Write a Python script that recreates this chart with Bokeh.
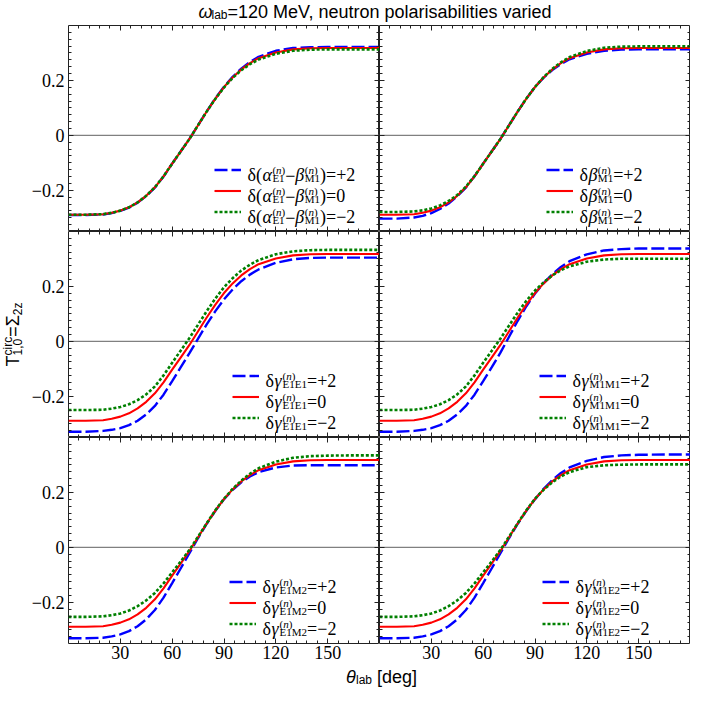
import math
from bokeh.plotting import figure
from bokeh.models import Range1d, LinearAxis, FixedTicker, Span, Legend, LegendItem, Label
from bokeh.layouts import column, row
from bokeh.embed import file_html
from bokeh.resources import INLINE

# ---------------- data ----------------
THETA = [0, 10, 20, 25, 30, 35, 40, 45, 50, 55, 60, 65, 70, 75, 80, 85, 90,
         95, 100, 105, 110, 120, 130, 140, 150, 165, 180]

# central curve (all variations = 0), identical in every panel
RED = [-0.289, -0.289, -0.287, -0.282, -0.274, -0.262, -0.244, -0.220, -0.189, -0.149, -0.103, -0.058, -0.013,
       0.037, 0.087, 0.134, 0.176, 0.211, 0.240, 0.263, 0.281, 0.302, 0.313, 0.317, 0.318, 0.318, 0.318]

# panel 1: delta(alpha-beta)
BLUE_1 = [-0.290, -0.290, -0.288, -0.283, -0.275, -0.263, -0.245, -0.221, -0.190, -0.150, -0.103, -0.058, -0.013,
          0.037, 0.087, 0.135, 0.177, 0.213, 0.243, 0.267, 0.286, 0.308, 0.318, 0.321, 0.322, 0.322, 0.322]
GREEN_1 = [-0.289, -0.289, -0.287, -0.282, -0.274, -0.262, -0.244, -0.220, -0.189, -0.149, -0.103, -0.058, -0.013,
           0.037, 0.087, 0.133, 0.174, 0.209, 0.237, 0.259, 0.276, 0.297, 0.308, 0.312, 0.313, 0.313, 0.313]
# panel 2: delta beta_M1
BLUE_2 = [-0.303, -0.303, -0.299, -0.293, -0.283, -0.268, -0.248, -0.222, -0.190, -0.149, -0.103, -0.058, -0.013,
          0.037, 0.087, 0.134, 0.176, 0.210, 0.238, 0.260, 0.277, 0.297, 0.308, 0.312, 0.313, 0.313, 0.313]
GREEN_2 = [-0.279, -0.279, -0.277, -0.273, -0.266, -0.255, -0.239, -0.217, -0.187, -0.148, -0.103, -0.058, -0.013,
           0.037, 0.087, 0.134, 0.176, 0.212, 0.242, 0.266, 0.285, 0.307, 0.319, 0.323, 0.324, 0.324, 0.324]
# panel 3: delta gamma_E1E1
BLUE_3 = [-0.329, -0.329, -0.326, -0.322, -0.316, -0.305, -0.289, -0.266, -0.235, -0.194, -0.145, -0.094, -0.043,
          0.010, 0.062, 0.110, 0.153, 0.189, 0.219, 0.243, 0.262, 0.286, 0.299, 0.304, 0.305, 0.305, 0.305]
GREEN_3 = [-0.250, -0.250, -0.249, -0.245, -0.239, -0.229, -0.214, -0.193, -0.164, -0.124, -0.078, -0.033, 0.012,
           0.061, 0.110, 0.156, 0.197, 0.230, 0.258, 0.279, 0.296, 0.317, 0.328, 0.332, 0.333, 0.333, 0.333]
# panel 4: delta gamma_M1M1
BLUE_4 = [-0.329, -0.329, -0.326, -0.322, -0.316, -0.305, -0.289, -0.266, -0.235, -0.194, -0.145, -0.094, -0.041,
          0.017, 0.075, 0.128, 0.174, 0.212, 0.244, 0.271, 0.292, 0.317, 0.331, 0.336, 0.338, 0.338, 0.338]
GREEN_4 = [-0.250, -0.250, -0.249, -0.245, -0.239, -0.229, -0.214, -0.193, -0.164, -0.124, -0.078, -0.034, 0.010,
           0.058, 0.105, 0.148, 0.185, 0.215, 0.240, 0.259, 0.273, 0.290, 0.298, 0.301, 0.301, 0.301, 0.301]
# panel 5: delta gamma_E1M2
BLUE_5 = [-0.331, -0.331, -0.329, -0.324, -0.317, -0.305, -0.287, -0.262, -0.228, -0.183, -0.130, -0.076, -0.021,
          0.034, 0.086, 0.133, 0.175, 0.209, 0.237, 0.258, 0.274, 0.291, 0.298, 0.299, 0.299, 0.299, 0.299]
GREEN_5 = [-0.253, -0.253, -0.251, -0.247, -0.241, -0.230, -0.214, -0.193, -0.166, -0.131, -0.091, -0.051, -0.009,
           0.039, 0.088, 0.135, 0.177, 0.213, 0.243, 0.268, 0.288, 0.312, 0.326, 0.332, 0.334, 0.335, 0.335]
# panel 6: delta gamma_M1E2
BLUE_6 = [-0.331, -0.331, -0.329, -0.324, -0.317, -0.305, -0.287, -0.262, -0.228, -0.183, -0.130, -0.076, -0.021,
          0.034, 0.086, 0.133, 0.175, 0.213, 0.245, 0.271, 0.291, 0.315, 0.329, 0.335, 0.337, 0.338, 0.338]
GREEN_6 = [-0.253, -0.253, -0.251, -0.247, -0.241, -0.230, -0.214, -0.193, -0.166, -0.131, -0.091, -0.051, -0.009,
           0.039, 0.088, 0.135, 0.177, 0.210, 0.237, 0.258, 0.274, 0.292, 0.299, 0.301, 0.302, 0.302, 0.302]

X_TICKS = [30, 60, 90, 120, 150]
X_TICK_LABELS = ["30", "60", "90", "120", "150"]
Y_TICKS = [-0.2, 0, 0.2]
Y_TICK_LABELS = ["\u22120.2", "0", "0.2"]
LEGEND_SUFFIX = ["=+2", "=0", "=\u22122"]

SUP_N = [("(", False), ("n", True), (")", False)]
LEGEND_TEXT = [
    [("r", "\u03b4("), ("i", "\u03b1"), ("ss", SUP_N, "E1"), ("r", "\u2212"), ("i", "\u03b2"), ("ss", SUP_N, "M1"), ("r", ")")],
    [("r", "\u03b4"), ("i", "\u03b2"), ("ss", SUP_N, "M1")],
    [("r", "\u03b4"), ("i", "\u03b3"), ("ss", SUP_N, "E1E1")],
    [("r", "\u03b4"), ("i", "\u03b3"), ("ss", SUP_N, "M1M1")],
    [("r", "\u03b4"), ("i", "\u03b3"), ("ss", SUP_N, "E1M2")],
    [("r", "\u03b4"), ("i", "\u03b3"), ("ss", SUP_N, "M1E2")],
]
BLUES = [BLUE_1, BLUE_2, BLUE_3, BLUE_4, BLUE_5, BLUE_6]
GREENS = [GREEN_1, GREEN_2, GREEN_3, GREEN_4, GREEN_5, GREEN_6]
LEGEND_X_FRAC = [0.468, 0.536, 0.528, 0.514, 0.519, 0.524]   # legend sample start / frame width

# ---------------- styling / geometry ----------------
SERIF = "Liberation Serif"
SANS = "Liberation Sans"
FG = "#222222"
XMIN, XMAX, YMIN, YMAX = 0, 180, -0.35, 0.40
FRAME_H = 206
FRAME_W = [311, 311]
YSTRIP_W = 26
LEFT_BORDER = 42
BOTTOM_BORDER = 22
HEADER_H = 25
FOOTER_H = 23

W_SERIF = {"\u03b4": 0.50, "(": 0.333, ")": 0.333, "\u2212": 0.564, "=": 0.564, "+": 0.564,
           "0": 0.5, "1": 0.5, "2": 0.5, "E": 0.611, "M": 0.889}
W_SERIF_IT = {"\u03b1": 0.55, "\u03b2": 0.52, "\u03b3": 0.45, "n": 0.5}
W_SANS = {"T": 0.611, "c": 0.5, "i": 0.222, "r": 0.333, "1": 0.556, ",": 0.278, "0": 0.556,
          "=": 0.584, "\u03a3": 0.61, "2": 0.556, "z": 0.5, "l": 0.222, "a": 0.556, "b": 0.556,
          " ": 0.278, "[": 0.278, "]": 0.278, "d": 0.556, "e": 0.556, "g": 0.556}
W_SANS_IT = {"\u03c9": 0.72, "\u03b8": 0.556}


def tw(s, table, size):
    return sum(table.get(c, 0.5) for c in s) * size


def rich(p, pieces, x0, b0, conv, font, tab_r, tab_i, main=18, small=11,
         sup_dy=-5.5, sub_dy=3.5, rotate=False, baseline="alphabetic"):
    """Lay out text pieces with sub/superscripts; x0,b0 are px (x right, y down)."""
    state = {"adv": 0.0}

    def put(text, size, italic, along, perp):
        if rotate:
            px, py = x0 + perp, b0 - along
        else:
            px, py = x0 + along, b0 + perp
        dx, dy = conv(px, py)
        p.add_layout(Label(x=dx, y=dy, text=text, text_font=font,
                           text_font_size=f"{size}px",
                           text_font_style="italic" if italic else "normal",
                           text_align="left", text_baseline=baseline,
                           text_color="black", angle=math.pi / 2 if rotate else 0))

    for pc in pieces:
        kind = pc[0]
        if kind in ("r", "i"):
            it = kind == "i"
            put(pc[1], main, it, state["adv"], 0)
            state["adv"] += tw(pc[1], tab_i if it else tab_r, main)
        elif kind == "gap":
            state["adv"] += pc[1]
        elif kind == "sub":
            put(pc[1], small, False, state["adv"], sub_dy)
            state["adv"] += tw(pc[1], tab_r, small)
        elif kind == "ss":
            a0 = state["adv"]
            a = a0
            for t, it in pc[1]:
                put(t, small, it, a, sup_dy)
                a += tw(t, tab_i if it else tab_r, small)
            put(pc[2], small, False, a0, sub_dy)
            state["adv"] = max(a, a0 + tw(pc[2], tab_r, small))
    return state["adv"]


def make_axis(side, labelled):
    if side in ("left", "right"):
        tk = FixedTicker(ticks=Y_TICKS,
                         minor_ticks=[round(YMIN + 0.025 * k, 3) for k in range(1, 30)])
        ticks, labels = Y_TICKS, Y_TICK_LABELS
    else:
        tk = FixedTicker(ticks=X_TICKS, minor_ticks=[6 * k for k in range(1, 30)])
        ticks, labels = X_TICKS, X_TICK_LABELS
    ax = LinearAxis(ticker=tk, axis_line_color=None,
                    major_tick_in=5, major_tick_out=0, minor_tick_in=3, minor_tick_out=0,
                    major_tick_line_color=FG, minor_tick_line_color=FG,
                    major_tick_line_width=1, minor_tick_line_width=1)
    if labelled:
        ax.major_label_text_font = SERIF
        ax.major_label_text_font_size = "18px"
        ax.major_label_text_color = "black"
        ax.major_label_standoff = 2 if side == "below" else 4
        ax.major_label_overrides = {t: l for t, l in zip(ticks, labels)}
    else:
        ax.major_label_text_font_size = "0px"
        ax.major_label_standoff = 0
        ax.major_label_overrides = {t: "" for t in ticks}
    return ax


figs = []
for i in range(6):
    col, rw = i % 2, i // 2
    W = FRAME_W[col]
    p = figure(frame_width=W, frame_height=FRAME_H,
               x_range=Range1d(XMIN, XMAX), y_range=Range1d(YMIN, YMAX),
               x_axis_location=None, y_axis_location=None,
               toolbar_location=None, output_backend="svg",
               min_border_left=LEFT_BORDER if col == 0 else 0,
               min_border_right=0, min_border_top=0,
               min_border_bottom=BOTTOM_BORDER if rw == 2 else 0,
               background_fill_color="white", border_fill_color="white")
    p.title.visible = False
    p.outline_line_color = FG
    p.outline_line_width = 1
    p.xgrid.visible = False
    p.ygrid.visible = False
    p.add_layout(make_axis("left", col == 0), "left")
    p.add_layout(make_axis("right", False), "right")
    p.add_layout(make_axis("above", False), "above")
    p.add_layout(make_axis("below", rw == 2), "below")

    p.add_layout(Span(location=0, dimension="width", line_color="#808080",
                      line_width=1.2, level="underlay"))

    rb = p.line(THETA, BLUES[i], line_color="#0000ff", line_width=2.4, line_dash="13 4")
    rr = p.line(THETA, RED, line_color="#ff0000", line_width=2.1)
    rg = p.line(THETA, GREENS[i], line_color="#008000", line_width=2.6, line_dash="3 2")

    lx = round(LEGEND_X_FRAC[i] * W)
    top = 134
    row_h = 21
    leg = Legend(items=[LegendItem(label=" ", renderers=[r]) for r in (rb, rr, rg)],
                 location=(lx, FRAME_H - top - 3 * row_h), orientation="vertical",
                 glyph_width=27, glyph_height=row_h, label_height=row_h, label_width=1,
                 label_standoff=0, spacing=0, padding=0, margin=0,
                 border_line_color=None, background_fill_alpha=0,
                 label_text_font_size="1px")
    p.add_layout(leg)

    sx = W / (XMAX - XMIN)
    sy = FRAME_H / (YMAX - YMIN)
    conv = (lambda px, py, sx=sx, sy=sy: (XMIN + px / sx, YMAX - py / sy))
    for k, suf in enumerate(LEGEND_SUFFIX):
        base = top + row_h / 2 + row_h * k + 5
        rich(p, LEGEND_TEXT[i] + [("r", suf)], lx + 33, base, conv, SERIF,
             W_SERIF, W_SERIF_IT, main=18, small=11, sup_dy=-5.5, sub_dy=3.0)
    figs.append(p)


def strip(w, h):
    f = figure(frame_width=w, frame_height=h, x_range=Range1d(0, w), y_range=Range1d(0, h),
               x_axis_location=None, y_axis_location=None, toolbar_location=None,
               output_backend="svg", min_border=0, outline_line_color=None,
               background_fill_color="white", border_fill_color="white")
    f.title.visible = False
    f.xgrid.visible = False
    f.ygrid.visible = False
    return f


TOTAL_W = YSTRIP_W + LEFT_BORDER + FRAME_W[0] + FRAME_W[1]

# title strip (texts centred vertically in the strip)
header = strip(TOTAL_W, HEADER_H)
hconv = lambda px, py: (px, HEADER_H - py)
title = [("i", "\u03c9"), ("sub", "lab"), ("r", "=120 MeV, neutron polarisabilities varied")]
t_w = 0.72 * 18 + tw("lab", W_SANS, 12) + 18.39 * 18
rich(header, title, 378 - t_w / 2, 11.5, hconv, SANS, W_SANS, W_SANS_IT,
     main=18, small=12, sub_dy=3.0, baseline="middle")

# y-label strip
YSTRIP_H = 3 * FRAME_H
ystrip = strip(YSTRIP_W, YSTRIP_H)
yconv = lambda px, py: (px, YSTRIP_H - py)
ylab = [("r", "T"), ("ss", [("circ", False)], "1,0"), ("r", "="), ("r", "\u03a3"), ("sub", "2z")]
y_len = tw("T", W_SANS, 18) + tw("circ", W_SANS, 12) + tw("=\u03a3", W_SANS, 18) + tw("2z", W_SANS, 12)
rich(ystrip, ylab, 12.5, 1.5 * FRAME_H + y_len / 2, yconv, SANS, W_SANS, W_SANS_IT,
     main=18, small=12, sup_dy=-5.0, sub_dy=4.5, rotate=True, baseline="middle")

# x-label strip
footer = strip(TOTAL_W, FOOTER_H)
fconv = lambda px, py: (px, FOOTER_H - py)
xlab = [("i", "\u03b8"), ("sub", "lab"), ("gap", 0.278 * 18), ("r", "[deg]")]
xw = 0.556 * 18 + tw("lab", W_SANS, 12) + tw(" [deg]", W_SANS, 18)
rich(footer, xlab, 381 - xw / 2, 11.5, fconv, SANS, W_SANS, W_SANS_IT,
     main=18, small=12, sub_dy=3.0, baseline="middle")

grid = column(row(figs[0], figs[1]), row(figs[2], figs[3]), row(figs[4], figs[5]))
layout = column(header, row(ystrip, grid), footer)

open("out.html", "w").write(file_html(layout, INLINE))
